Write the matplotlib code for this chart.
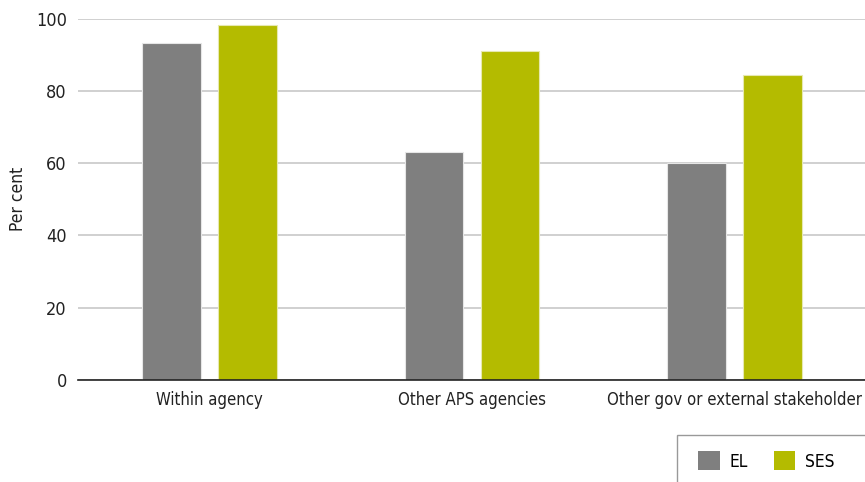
import matplotlib
matplotlib.use("Agg")
import matplotlib.pyplot as plt
from matplotlib.patches import Rectangle, Patch
import numpy as np

categories = ["Within agency", "Other APS agencies", "Other gov or external stakeholder"]
el_values = [93.1, 63.2, 60.1]
ses_values = [98.2, 91.1, 84.5]
yticks = [0, 20, 40, 60, 80, 100]

plt.rcParams["font.family"] = ["DejaVu Sans"]
plt.rcParams["font.stretch"] = "condensed"

grey = "#7f7f7f"
green = "#b4bb00"
txtc = "#222222"

fig = plt.figure(figsize=(8.65, 4.82), dpi=100)
ax = fig.add_axes([78/865, 1-380/482, 788/865, (380-18.5)/482])

x = np.arange(len(categories))
w = 0.224
off = 0.1445
ax.bar(x - off, el_values, w, color=grey, edgecolor="#e6e6e6", linewidth=0.8, zorder=3)
ax.bar(x + off, ses_values, w, color=green, edgecolor="#e6e8b0", linewidth=0.8, zorder=3)

ax.set_xlim(-0.5, 2.5)
ax.set_ylim(0, 100)
ax.set_yticks(yticks)
ax.set_xticks(x)
ax.set_xticklabels(categories, fontsize=12, color=txtc)
ax.tick_params(axis="y", length=0, pad=8, labelsize=13, labelcolor=txtc)
ax.tick_params(axis="x", length=0, pad=8)
ax.yaxis.grid(True, color="#c8c8c8", linewidth=1.2, zorder=0)
ax.set_axisbelow(True)
for s in ["top", "right", "left"]:
    ax.spines[s].set_visible(False)
ax.spines["bottom"].set_color(txtc)
ax.spines["bottom"].set_linewidth(1.2)
ax.spines["bottom"].set_zorder(4)
ax.set_ylabel("Per cent", fontsize=12.5, color=txtc)
ax.yaxis.set_label_coords(-(78 - 18) / 788, 0.5)
ax.yaxis.label.set_verticalalignment("center")

# legend frame (clipped at figure edge as in reference)
fig.add_artist(Rectangle((677/865, -0.1), 0.3, 1-435/482 + 0.1, transform=fig.transFigure,
                         fill=False, edgecolor="#999999", linewidth=1.0))
handles = [Patch(facecolor=grey, label="EL"), Patch(facecolor=green, label="SES")]
fig.legend(handles=handles, loc="center left", bbox_to_anchor=(698/865, 1-461/482),
           ncol=2, frameon=False, fontsize=12.5, handlelength=1.25, handleheight=1.25,
           handletextpad=0.55, columnspacing=1.5, borderpad=0, borderaxespad=0)

fig.savefig("out.png", dpi=100)
